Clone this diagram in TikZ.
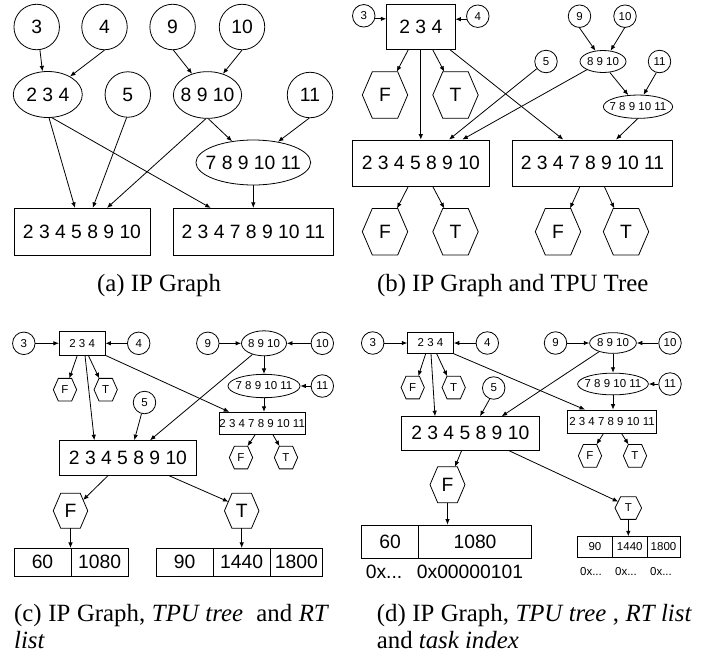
\documentclass[tikz,border=0pt]{standalone}
\usepackage{fontspec}
\setmainfont{Liberation Serif}
\newfontfamily\sansf{Liberation Sans}
\usetikzlibrary{shapes.geometric,arrows.meta}
\newcommand{\drawhexagon}[2]{\draw[ln] (#1.west) -- ([xshift=#2]#1.north west) -- ([xshift=-#2]#1.north east) -- (#1.east) -- ([xshift=-#2]#1.south east) -- ([xshift=#2]#1.south west) -- cycle;}
\begin{document}
\begin{tikzpicture}[x=1pt,y=-1pt,
  every node/.style={inner sep=0pt},
  bigt/.style={font=\sansf\fontsize{19.3}{22}\selectfont},
  smallt/.style={font=\sansf\fontsize{11.5}{13}\selectfont},
  capt/.style={font=\fontsize{24.8}{26.7}\selectfont},
  ln/.style={line width=0.8pt},
  circ/.style={circle, draw, ln, minimum size=#1},
  ell/.style 2 args={ellipse, draw, ln, minimum width=#1, minimum height=#2},
  box/.style 2 args={rectangle, draw, ln, minimum width=#1, minimum height=#2},
  hexn/.style 2 args={rectangle, outer sep=0pt, minimum width=#1, minimum height=#2},
  arr/.style={ln, -{Latex[length=5.5pt,width=4.5pt]}},
]
\useasboundingbox (0,0) rectangle (709,654);
% ---------------- (a)
\node[circ=45.5pt, bigt] (c3a) at (36.7,27) {3};
\node[circ=45.5pt, bigt] (c4a) at (104.5,27) {4};
\node[circ=45.5pt, bigt] (c9a) at (172.6,27) {9};
\node[circ=45.5pt, bigt] (c10a) at (242,27) {10};
\node[ell={69pt}{46pt}, label={[bigt]center:2 3 4}] (e234a) at (47.8,94.5) {};
\node[circ=45.5pt, bigt] (c5a) at (127.8,94.5) {5};
\node[ell={68.3pt}{46.7pt}, label={[bigt]center:8 9 10}] (e8910a) at (207.5,95) {};
\node[circ=45.5pt, bigt] (c11a) at (310,95) {11};
\node[ell={114.7pt}{45pt}, label={[bigt]center:7 8 9 10 11}] (e7891011a) at (253.3,162.5) {};
\node[box={136pt}{46.7pt}, bigt] (r1a) at (82,231.7) {2 3 4 5 8 9 10};
\node[box={160pt}{46.7pt}, bigt] (r2a) at (253.3,231.7) {2 3 4 7 8 9 10 11};
\draw[arr] (c3a.-82) -- (e234a.103);
\draw[arr] (c4a.-90) -- (e234a.39);
\draw[arr] (c9a.-88) -- (e8910a.126);
\draw[arr] (c10a.-90) -- (e8910a.54);
\draw[arr] (e234a.-87) -- ([xshift=-7pt]r1a.north);
\draw[arr] (e234a.-80) -- ([xshift=-42.6pt]r2a.north);
\draw[arr] (c5a.-93) -- ([xshift=10.7pt]r1a.north);
\draw[arr] (e8910a.-94) -- ([xshift=25pt]r1a.north);
\draw[arr] (e8910a.-88) -- (e7891011a.135);
\draw[arr] (c11a.-92) -- (e7891011a.40);
\draw[arr] (e7891011a.south) -- (r2a.north);
\node[capt, anchor=base] (capa) at (159,291) {(a) IP Graph};
% ---------------- (b)
\node[circ=22.5pt, smallt] (c3b) at (363.75,15.8) {3};
\node[box={68.3pt}{45.3pt}, bigt] (r234b) at (420.8,26.7) {2 3 4};
\node[circ=22.5pt, smallt] (c4b) at (477.8,16.2) {4};
\node[circ=22.5pt, smallt] (c9b) at (579.5,16.2) {9};
\node[circ=22.5pt, smallt] (c10b) at (625,16.2) {10};
\node[ell={46pt}{22pt}, label={[smallt]center:8 9 10}] (e8910b) at (603,61.5) {};
\node[circ=22.5pt, smallt] (c5b) at (546,61.5) {5};
\node[circ=22.5pt, smallt] (c11b) at (659.5,61.5) {11};
\node[ell={69.3pt}{23.3pt}, label={[smallt]center:7 8 9 10 11}] (e7891011b) at (638,106.7) {};
\node[hexn={45.4pt}{46.6pt}, bigt] (hF1b) at (385,95) {F}; \drawhexagon{hF1b}{10pt}
\node[hexn={45.4pt}{46.6pt}, bigt] (hT1b) at (455.5,95) {T}; \drawhexagon{hT1b}{10pt}
\node[box={137pt}{46pt}, bigt] (r1b) at (420.8,163) {2 3 4 5 8 9 10};
\node[box={159.7pt}{46pt}, bigt] (r2b) at (592.5,163) {2 3 4 7 8 9 10 11};
\node[hexn={45.4pt}{46.6pt}, bigt] (hF2b) at (385,231.7) {F}; \drawhexagon{hF2b}{10pt}
\node[hexn={45.4pt}{46.6pt}, bigt] (hT2b) at (455.5,231.7) {T}; \drawhexagon{hT2b}{10pt}
\node[hexn={45.4pt}{46.6pt}, bigt] (hF3b) at (558,231.7) {F}; \drawhexagon{hF3b}{10pt}
\node[hexn={45.4pt}{46.6pt}, bigt] (hT3b) at (626,231.7) {T}; \drawhexagon{hT3b}{10pt}
\draw[arr] (c3b.-15) -- (c3b.-15 -| r234b.west);
\draw[arr] (c4b.195) -- (c4b.195 -| r234b.east);
\draw[arr] ([xshift=-12.5pt]r234b.south) -- ([xshift=11.7pt]hF1b.north);
\draw[arr] ([xshift=11.9pt]r234b.south) -- ([xshift=-11.2pt]hT1b.north);
\draw[arr] (r234b.south) -- (r1b.north);
\draw[arr] ([xshift=29.2pt]r234b.south) -- ([xshift=-29.2pt]r2b.north);
\draw[arr] (c5b.218) -- ([xshift=28.2pt]r1b.north);
\draw[arr] (e8910b.207) -- ([xshift=41.5pt]r1b.north);
\draw[arr] (c9b.-90) -- (e8910b.125);
\draw[arr] (c10b.-92) -- (e8910b.55);
\draw[arr] (e8910b.-58) -- (e7891011b.130);
\draw[arr] (c11b.-106) -- (e7891011b.65);
\draw[arr] (e7891011b.-92) -- ([xshift=23.5pt]r2b.north);
\draw[arr] ([xshift=-12.5pt]r1b.south) -- ([xshift=12pt]hF2b.north);
\draw[arr] ([xshift=11.9pt]r1b.south) -- ([xshift=-11.2pt]hT2b.north);
\draw[arr] ([xshift=-12.5pt]r2b.south) -- ([xshift=12pt]hF3b.north);
\draw[arr] ([xshift=11.8pt]r2b.south) -- ([xshift=-11.7pt]hT3b.north);
\node[capt, anchor=base] (capb) at (512.7,291) {(b) IP Graph and TPU Tree};
% ---------------- (c)
\node[circ=22.5pt, smallt] (c3c) at (23.8,343.3) {3};
\node[box={45.7pt}{23.3pt}, smallt] (r234c) at (82.2,343.3) {2 3 4};
\node[circ=22.5pt, smallt] (c4c) at (138.7,343.3) {4};
\node[circ=22.5pt, smallt] (c9c) at (207.8,343.3) {9};
\node[ell={45pt}{25pt}, label={[smallt]center:8 9 10}] (e8910c) at (264,343.3) {};
\node[circ=22.5pt, smallt] (c10c) at (322.3,343.3) {10};
\node[ell={72pt}{23.3pt}, label={[smallt]center:7 8 9 10 11}] (e7891011c) at (264,386) {};
\node[circ=22.5pt, smallt] (c11c) at (322.3,386) {11};
\node[box={85.7pt}{22pt}, smallt] (r2347c) at (262.2,423.3) {2 3 4 7 8 9 10 11};
\node[hexn={23.3pt}{22.7pt}, smallt] (hF1c) at (65,389.7) {F}; \drawhexagon{hF1c}{5pt}
\node[hexn={23.3pt}{22.7pt}, smallt] (hT1c) at (105.7,389.7) {T}; \drawhexagon{hT1c}{5pt}
\node[circ=22.5pt, smallt] (c5c) at (144.5,402.5) {5};
\node[box={137.4pt}{34.3pt}, bigt] (r1c) at (128,457.8) {2 3 4 5 8 9 10};
\node[hexn={23.3pt}{22.7pt}, smallt] (hF2c) at (241,457.5) {F}; \drawhexagon{hF2c}{5pt}
\node[hexn={23.3pt}{22.7pt}, smallt] (hT2c) at (286,457.5) {T}; \drawhexagon{hT2c}{5pt}
\node[hexn={34.5pt}{35pt}, bigt] (hFc) at (70.5,510.8) {F}; \drawhexagon{hFc}{7.5pt}
\node[hexn={34.5pt}{35pt}, bigt] (hTc) at (241.7,510.8) {T}; \drawhexagon{hTc}{7.5pt}
\node[box={57pt}{27.7pt}, bigt] (l60c) at (42.5,562.2) {60};
\node[box={57.3pt}{27.7pt}, bigt] (l1080c) at (99.65,562.2) {1080};
\node[box={57.3pt}{27.7pt}, bigt] (l90c) at (184.65,562.2) {90};
\node[box={56.7pt}{27.7pt}, bigt] (l1440c) at (241.65,562.2) {1440};
\node[box={52.7pt}{27.7pt}, bigt] (l1800c) at (296.35,562.2) {1800};
\draw[arr] (c3c.east) -- (r234c.west);
\draw[arr] (c4c.west) -- (r234c.east);
\draw[arr] (c9c.east) -- (e8910c.west);
\draw[arr] (c10c.west) -- (e8910c.east);
\draw[arr] (e8910c.south) -- (e7891011c.north);
\draw[arr] (c11c.west) -- (e7891011c.east);
\draw[arr] (e7891011c.south) -- (e7891011c.south |- r2347c.north);
\draw[arr] ([xshift=-4.9pt]r234c.south) -- ([xshift=4.3pt]hF1c.north);
\draw[arr] ([xshift=6.1pt]r234c.south) -- ([xshift=-6.5pt]hT1c.north);
\draw[arr] ([xshift=2.8pt]r234c.south) -- ([xshift=-33.7pt]r1c.north);
\draw[arr] (r234c.south east) -- ([xshift=-33pt]r2347c.north);
\draw[arr] (c5c.-105) -- ([xshift=6.3pt]r1c.north);
\draw[arr] (e8910c.224) -- ([xshift=22pt]r1c.north);
\draw[arr] ([xshift=-7pt]r2347c.south) -- ([xshift=6.5pt]hF2c.north);
\draw[arr] ([xshift=10.7pt]r2347c.south) -- ([xshift=-6.5pt]hT2c.north);
\draw[arr] ([xshift=-19.7pt]r1c.south) -- ([xshift=12.6pt,yshift=-6.7pt]hFc.north);
\draw[arr] ([xshift=40.3pt]r1c.south) -- ([xshift=-13.3pt,yshift=-8.4pt]hTc.north);
\draw[arr] (hFc.south) -- (hFc.south |- l60c.north);
\draw[arr] (hTc.south) -- (hTc.south |- l1440c.north);
\node[capt, anchor=base west] (capc1) at (14,621.7) {\makebox[315pt][s]{(c) IP Graph, \textit{TPU tree}\ \ and \textit{RT}}};
\node[capt, anchor=base west] (capc2) at (14,648.3) {\textit{list}};
% ---------------- (d)
\node[circ=22.5pt, smallt] (c3d) at (372.7,343) {3};
\node[box={45.7pt}{20.7pt}, smallt] (r234d) at (430.5,343) {2 3 4};
\node[circ=22.5pt, smallt] (c4d) at (487.3,343) {4};
\node[circ=22.5pt, smallt] (c9d) at (555.5,343) {9};
\node[ell={46.7pt}{20.7pt}, label={[smallt]center:8 9 10}] (e8910d) at (613,343) {};
\node[circ=22.5pt, smallt] (c10d) at (670,343) {10};
\node[ell={70.7pt}{21.7pt}, label={[smallt]center:7 8 9 10 11}] (e7891011d) at (613,384) {};
\node[circ=22.5pt, smallt] (c11d) at (670,384) {11};
\node[box={89.3pt}{23.3pt}, smallt] (r2347d) at (612,421.7) {2 3 4 7 8 9 10 11};
\node[hexn={23.3pt}{22.7pt}, smallt] (hF1d) at (412.7,387.5) {F}; \drawhexagon{hF1d}{5pt}
\node[hexn={23.3pt}{22.7pt}, smallt] (hT1d) at (453.7,387.5) {T}; \drawhexagon{hT1d}{5pt}
\node[circ=22.5pt, smallt] (c5d) at (493.7,388) {5};
\node[box={137.3pt}{33.3pt}, bigt] (r1d) at (470.3,433.3) {2 3 4 5 8 9 10};
\node[hexn={23.3pt}{22.7pt}, smallt] (hF2d) at (590,455.8) {F}; \drawhexagon{hF2d}{5pt}
\node[hexn={23.3pt}{22.7pt}, smallt] (hT2d) at (635,455.8) {T}; \drawhexagon{hT2d}{5pt}
\node[hexn={35pt}{36pt}, bigt] (hFd) at (447.5,484.7) {F}; \drawhexagon{hFd}{7.7pt}
\node[hexn={26.7pt}{22.7pt}, smallt] (hTd) at (628.3,508) {T}; \drawhexagon{hTd}{5.7pt}
\node[box={56.6pt}{33.3pt}, bigt] (l60d) at (390,541.65) {60};
\node[box={113.4pt}{33.3pt}, bigt] (l1080d) at (475,541.65) {1080};
\node[bigt] (x60d) at (384,572) {0x...};
\node[bigt] (x1080d) at (470,572) {0x00000101};
\node[box={35.2pt}{20.3pt}, smallt] (l90d) at (594.9,546.85) {90};
\node[box={34.5pt}{20.3pt}, smallt] (l1440d) at (629.75,546.85) {1440};
\node[box={33pt}{20.3pt}, smallt] (l1800d) at (663.5,546.85) {1800};
\node[smallt] (x90d) at (591,572) {0x...};
\node[smallt] (x1440d) at (626,572) {0x...};
\node[smallt] (x1800d) at (661,572) {0x...};
\draw[arr] (c3d.east) -- (r234d.west);
\draw[arr] (c4d.west) -- (r234d.east);
\draw[arr] (c9d.east) -- (e8910d.west);
\draw[arr] (c10d.west) -- (e8910d.east);
\draw[arr] (e8910d.south) -- (e7891011d.north);
\draw[arr] (c11d.west) -- (e7891011d.east);
\draw[arr] (e7891011d.south) -- (e7891011d.south |- r2347d.north);
\draw[arr] ([xshift=-4.8pt]r234d.south) -- ([xshift=5.6pt]hF1d.north);
\draw[arr] ([xshift=6.2pt]r234d.south) -- ([xshift=-6.5pt]hT1d.north);
\draw[arr] ([xshift=0.5pt]r234d.south) -- ([xshift=-35.3pt]r1d.north);
\draw[arr] (r234d.south east) -- ([xshift=-27pt]r2347d.north);
\draw[arr] (c5d.-110) -- ([xshift=9.7pt]r1d.north);
\draw[arr] (e8910d.212) -- ([xshift=31.4pt]r1d.north);
\draw[arr] ([xshift=-8.7pt]r2347d.south) -- ([xshift=6.5pt]hF2d.north);
\draw[arr] ([xshift=9.7pt]r2347d.south) -- ([xshift=-6.5pt]hT2d.north);
\draw[arr] ([xshift=-8.6pt]r1d.south) -- ([xshift=7.5pt]hFd.north);
\draw[arr] ([xshift=38pt]r1d.south) -- ([xshift=-10.1pt,yshift=-5pt]hTd.north);
\draw[arr] (hFd.south) -- (hFd.south |- l1080d.north);
\draw[arr] (hTd.south) -- (hTd.south |- l1440d.north);
\node[capt, anchor=base west] (capd1) at (376.7,621.7) {\makebox[315pt][s]{(d) IP Graph, \textit{TPU tree} , \textit{RT list}}};
\node[capt, anchor=base west] (capd2) at (376.7,648.3) {and \textit{task index}};
\end{tikzpicture}
\end{document}
